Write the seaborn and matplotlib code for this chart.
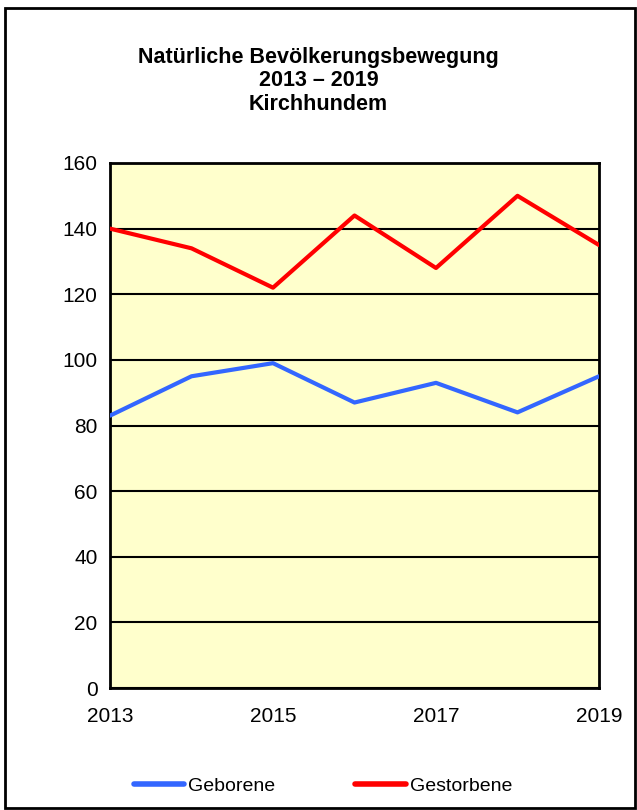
import pandas as pd
import matplotlib
matplotlib.use("Agg")
import matplotlib.pyplot as plt
import seaborn as sns
from matplotlib.patches import Rectangle

years = [2013, 2014, 2015, 2016, 2017, 2018, 2019]
geborene = [83, 95, 99, 87, 93, 84, 95]
gestorbene = [140, 134, 122, 144, 128, 150, 135]
series_names = ["Geborene", "Gestorbene"]
title = "Natürliche Bevölkerungsbewegung\n2013 – 2019\nKirchhundem"

sns.set_theme(style="white")
plt.rcParams["font.family"] = ["Liberation Sans", "DejaVu Sans"]
plt.rcParams["text.color"] = "black"

df = pd.DataFrame({
    "Jahr": years * 2,
    "Anzahl": geborene + gestorbene,
    "Serie": [series_names[0]] * len(years) + [series_names[1]] * len(years),
})

fig = plt.figure(figsize=(6.37, 8.10), dpi=100)
ax = fig.add_axes([110 / 637, 1 - 688 / 810, 489 / 637, 525 / 810])
ax.set_facecolor("#FFFFCC")

sns.lineplot(data=df, x="Jahr", y="Anzahl", hue="Serie",
             palette={"Geborene": "#3366FF", "Gestorbene": "#FF0000"},
             linewidth=3, ax=ax, legend=False, zorder=3)

ax.set_xlim(2013, 2019)
ax.set_ylim(0, 160)
ax.set_yticks(range(0, 161, 20))
ax.set_xticks([2013, 2015, 2017, 2019])
ax.set_xticks(years, minor=True)
ax.grid(axis="y", color="black", linewidth=1.5, zorder=1)
ax.set_axisbelow(True)
for s in ax.spines.values():
    s.set_color("black")
    s.set_linewidth(2)
ax.tick_params(axis="both", which="both", direction="out", length=6, width=1.5,
               color="black", labelsize=15, labelcolor="black")
ax.tick_params(axis="x", pad=8)
ax.tick_params(axis="y", pad=3)
ax.set_xlabel("")
ax.set_ylabel("")

fig.text(0.5, 1 - 81 / 810, title, ha="center", va="center", color="black",
         fontsize=15.5, fontweight="bold", linespacing=1.15)

handles = [plt.Line2D([], [], color="#3366FF", lw=4, solid_capstyle="round"),
           plt.Line2D([], [], color="#FF0000", lw=4, solid_capstyle="round")]
leg = fig.legend(handles, series_names, loc="center", bbox_to_anchor=(0.507, 1 - 786 / 810),
                 ncol=2, frameon=False, fontsize=14, handlelength=2.6, handletextpad=0.2,
                 columnspacing=4.1)
for t in leg.get_texts():
    t.set_color("black")

fig.patches.append(Rectangle((5 / 637, 2 / 810), 630 / 637, 800 / 810,
                             transform=fig.transFigure, fill=False,
                             edgecolor="black", linewidth=2))

fig.savefig("out.png", dpi=100)
